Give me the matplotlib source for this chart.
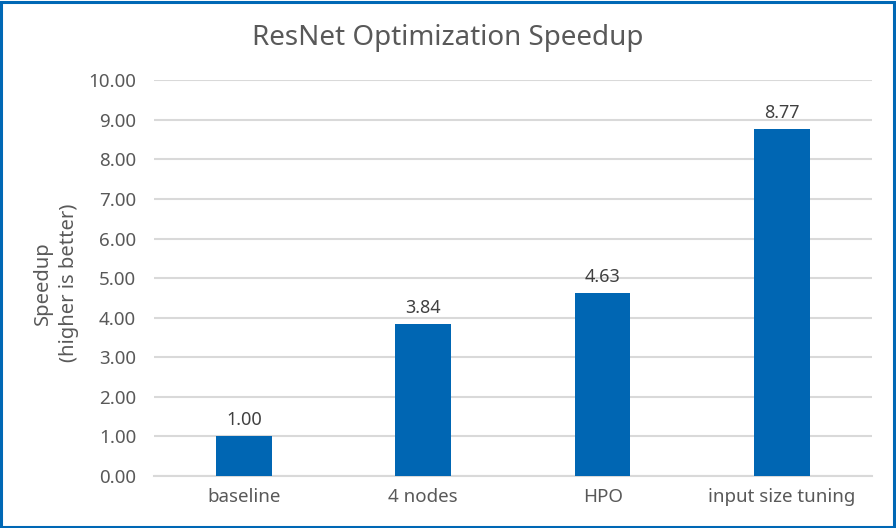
import matplotlib.pyplot as plt
from matplotlib.patches import Rectangle

# data
categories = ["baseline", "4 nodes", "HPO", "input size tuning"]
speedup = [1.00, 3.84, 4.63, 8.77]
yticks = [0, 1, 2, 3, 4, 5, 6, 7, 8, 9, 10]

plt.rcParams['font.family'] = ['Noto Sans', 'DejaVu Sans']
grey = "#595959"
blue = "#0066B3"

fig = plt.figure(figsize=(8.96, 5.28), dpi=100)
ax = fig.add_axes([0.172, 0.0985, 0.801, 0.7495])

x = range(len(categories))
bars = ax.bar(x, speedup, width=0.31, color=blue, zorder=3)
for xi, v in zip(x, speedup):
    ax.text(xi, v + 0.18, f"{v:.2f}", ha="center", va="bottom", fontsize=13, color="#404040")

ax.set_xlim(-0.5, len(categories) - 0.5)
ax.set_ylim(0, 10)
ax.set_yticks(yticks)
ax.set_yticklabels([f"{t:.2f}" for t in yticks])
ax.set_xticks(list(x))
ax.set_xticklabels(categories)
ax.tick_params(axis="both", length=0, labelsize=13.5, labelcolor=grey)
ax.tick_params(axis="y", pad=13)
ax.tick_params(axis="x", pad=9)
ax.grid(axis="y", color="#D9D9D9", linewidth=1.5, zorder=0)
for s in ["top", "right", "left"]:
    ax.spines[s].set_visible(False)
ax.spines["bottom"].set_color("#D9D9D9")
ax.spines["bottom"].set_linewidth(1.5)

fig.text(0.5, 0.928, "ResNet Optimization Speedup", ha="center", va="center",
         fontsize=20, color=grey)
fig.text(0.048, 0.464, "Speedup", rotation=90, ha="center", va="center",
         fontsize=14.5, color=grey, fontweight="medium")
fig.text(0.077, 0.464, "(higher is better)", rotation=90, ha="center", va="center",
         fontsize=14.5, color=grey)

# outer border
fig.patches.append(Rectangle((0.0015, 0.0025), 0.996, 0.994, transform=fig.transFigure,
                             fill=False, edgecolor="#0068B5", linewidth=2.2))

fig.savefig("out.png", dpi=100)
